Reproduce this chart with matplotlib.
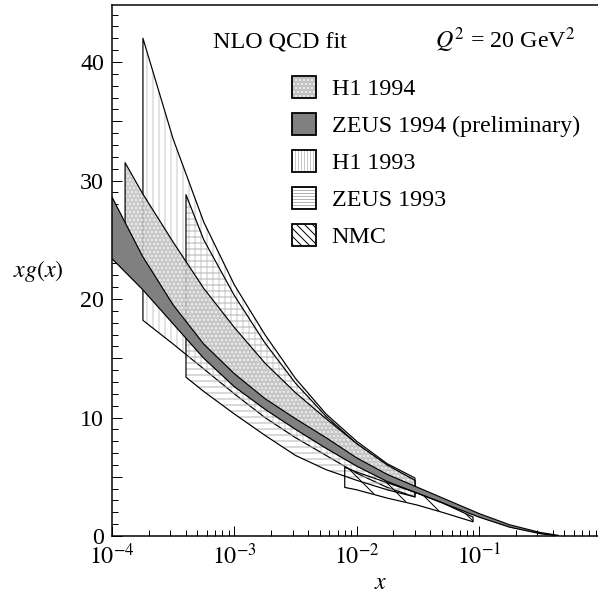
import numpy as np
import matplotlib
matplotlib.use("Agg")
import matplotlib.pyplot as plt
from matplotlib.patches import Patch
from matplotlib.legend_handler import HandlerTuple
from matplotlib.ticker import MultipleLocator, FuncFormatter, LogLocator, NullFormatter

plt.rcParams['font.family'] = ['Liberation Serif', 'DejaVu Serif']
plt.rcParams['mathtext.fontset'] = 'stix'
plt.rcParams['hatch.linewidth'] = 1.0

# ---------------- data ----------------
# log10(x) sample points and band edges for each fit

# ZEUS 1994 (preliminary)
logx_z94 = [-4.0, -3.75, -3.5, -3.25, -3.0, -2.75, -2.5, -2.25, -2.0, -1.75, -1.5, -1.25, -1.0, -0.75, -0.5, -0.35]
lo_z94 = [23.4, 20.8, 17.9, 15.0, 12.6, 10.7, 9.0, 7.4, 5.9, 4.6, 3.6, 2.6, 1.6, 0.75, 0.2, 0.0]
hi_z94 = [28.6, 23.6, 19.5, 16.2, 13.7, 11.6, 9.9, 8.3, 6.6, 5.2, 4.1, 3.0, 1.9, 0.95, 0.3, 0.05]

# H1 1994
logx_h94 = [-3.893, -3.75, -3.5, -3.25, -3.0, -2.75, -2.5, -2.25, -2.0, -1.75, -1.523]
lo_h94 = [23.9, 22.0, 18.9, 15.9, 13.3, 11.2, 9.4, 7.7, 6.1, 4.8, 4.0]
hi_h94 = [31.5, 28.9, 24.8, 20.9, 17.6, 14.6, 12.1, 9.9, 7.8, 6.0, 4.7]

# H1 1993
logx_h93 = [-3.747, -3.5, -3.25, -3.0, -2.75, -2.5, -2.25, -2.0, -1.75, -1.523]
lo_h93 = [18.2, 16.2, 14.1, 12.0, 10.0, 8.3, 6.8, 5.3, 4.1, 3.3]
hi_h93 = [42.0, 33.5, 26.5, 21.2, 17.0, 13.3, 10.3, 8.0, 6.1, 4.9]

# ZEUS 1993
logx_z93 = [-3.395, -3.25, -3.0, -2.75, -2.5, -2.25, -2.0, -1.75, -1.523]
lo_z93 = [13.4, 12.2, 10.3, 8.5, 6.8, 5.6, 4.7, 3.9, 3.3]
hi_z93 = [28.8, 25.0, 20.3, 16.3, 12.9, 10.1, 7.8, 5.9, 4.7]

# NMC
logx_nmc = [-2.097, -2.0, -1.75, -1.5, -1.3, -1.048]
lo_nmc = [4.1, 3.9, 3.2, 2.6, 2.0, 1.2]
hi_nmc = [5.8, 5.4, 4.5, 3.6, 2.8, 1.6]

labels = ["H1 1994", "ZEUS 1994 (preliminary)", "H1 1993", "ZEUS 1993", "NMC"]
yticks_major = [0, 10, 20, 30, 40]

# ---------------- figure ----------------
W, H = 598, 597
fig = plt.figure(figsize=(W / 72, H / 72), dpi=72)
ax = fig.add_axes([112 / W, 61 / H, 486 / W, 531 / H])

def band(logx, lo, hi, fc, hatch, hc, z, alpha=1.0):
    x = 10.0 ** np.asarray(logx)
    ax.fill_between(x, lo, hi, facecolor=fc, hatch=hatch, edgecolor=hc,
                    linewidth=0, zorder=z, alpha=alpha)
    ax.fill_between(x, lo, hi, facecolor='none', edgecolor='black',
                    linewidth=1.2, zorder=z + 0.1)

band(logx_h93, lo_h93, hi_h93, 'white', '||', '#c8c8c8', 1)
band(logx_z93, lo_z93, hi_z93, 'none', '--', '#b4b4b4', 2)
band(logx_h94, lo_h94, hi_h94, '#c2c2c2', '...', 'white', 3, alpha=0.85)
band(logx_z94, lo_z94, hi_z94, '#808080', None, '#808080', 4)
band(logx_nmc, lo_nmc, hi_nmc, 'none', '\\', 'black', 5)

ax.set_xscale('log')
ax.set_xlim(1e-4, 10 ** (-4 + 486 / 122.3))
ax.set_ylim(0, 531 / 11.85)

ax.spines['right'].set_visible(False)
for s in ['left', 'bottom', 'top']:
    ax.spines[s].set_linewidth(1.5)

ax.yaxis.set_major_locator(MultipleLocator(5))
ax.yaxis.set_minor_locator(MultipleLocator(1))
ax.yaxis.set_major_formatter(FuncFormatter(
    lambda v, p: f"{int(round(v))}" if int(round(v)) in yticks_major else ""))
ax.xaxis.set_major_locator(LogLocator(base=10, numticks=10))
ax.xaxis.set_minor_locator(LogLocator(base=10, subs=np.arange(2, 10), numticks=20))
ax.xaxis.set_minor_formatter(NullFormatter())
ax.xaxis.set_major_formatter(FuncFormatter(
    lambda v, p: r"$10^{%d}$" % int(round(np.log10(v)))))

ax.tick_params(which='both', direction='in', top=False, right=False,
               labelsize=24, width=1.0)
ax.tick_params(which='major', length=10, pad=8)
ax.tick_params(which='minor', length=6)

ax.set_xlabel(r"$x$", fontsize=24, va='baseline')
ax.xaxis.set_label_coords(0.553, -0.0998)
ax.set_ylabel(r"$xg(x)$", fontsize=24, rotation=0, ha='right', va='center')
ax.yaxis.set_label_coords(-0.10, 0.50)

ax.text(0.208, 0.919, "NLO QCD fit", transform=ax.transAxes, fontsize=24,
        va='baseline', ha='left')
ax.text(0.665, 0.919, r"$Q^2$ = 20 GeV$^2$", transform=ax.transAxes, fontsize=24,
        va='baseline', ha='left')

def hnd(fc, hatch, hc):
    return (Patch(facecolor=fc, hatch=hatch, edgecolor=hc, linewidth=0),
            Patch(facecolor='none', edgecolor='black', linewidth=1.8))

handles = [hnd('#c2c2c2', '...', 'white'),
           hnd('#808080', None, '#808080'),
           hnd('white', '||||', '#c8c8c8'),
           hnd('white', '----', '#b4b4b4'),
           hnd('white', '\\\\\\', 'black')]
leg = ax.legend(handles, labels, handler_map={tuple: HandlerTuple(ndivide=1)},
                loc='upper left', bbox_to_anchor=(292 / W, 1 - 76 / H),
                bbox_transform=fig.transFigure, frameon=False, fontsize=24,
                handlelength=1.0, handleheight=1.05, handletextpad=0.65,
                labelspacing=0.525, borderpad=0, borderaxespad=0)

fig.savefig("out.png", dpi=72)
